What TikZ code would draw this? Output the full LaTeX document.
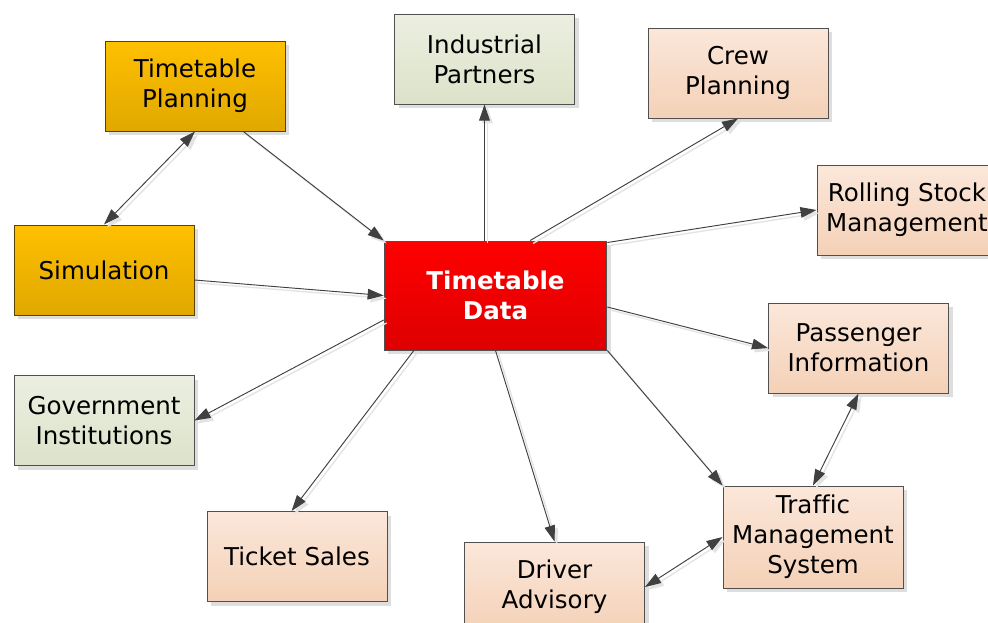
\documentclass[tikz,border=0pt]{standalone}
\usepackage{fontspec}
\setmainfont[Ligatures=NoCommon]{DejaVu Sans}
\usetikzlibrary{arrows.meta,shadows,calc}

\definecolor{goldtop}{HTML}{FFC000}
\definecolor{goldbot}{HTML}{E0A800}
\definecolor{peachtop}{HTML}{FBE7DA}
\definecolor{peachbot}{HTML}{F4D1B7}
\definecolor{sagetop}{HTML}{ECEFE1}
\definecolor{sagebot}{HTML}{DCE2C9}
\definecolor{redtop}{HTML}{FF0000}
\definecolor{redbot}{HTML}{DE0000}
\definecolor{edgegrey}{HTML}{404040}
\definecolor{framegrey}{HTML}{505050}

\tikzset{
  box/.style={rectangle, draw=framegrey, line width=0.75pt,
    minimum width=135pt, minimum height=67.5pt, align=center, inner sep=0pt,
    font=\fontsize{18.4}{22.5}\selectfont,
    drop shadow={shadow xshift=3pt, shadow yshift=-3pt, fill=black!13, opacity=1}},
  goldbox/.style={box, top color=goldtop, bottom color=goldbot, draw=black!60!goldbot},
  peachbox/.style={box, top color=peachtop, bottom color=peachbot},
  sagebox/.style={box, top color=sagetop, bottom color=sagebot},
  hubbox/.style={box, top color=redtop, bottom color=redbot,
    minimum width=167pt, minimum height=81.75pt, text=white,
    font=\fontsize{18.4}{22.5}\selectfont\bfseries},
  conn/.style={draw=edgegrey, line width=0.7pt,
    -{Triangle[length=12pt,width=8pt]},
    preaction={draw=black!11, line width=1pt,
      transform canvas={shift={(2.2pt,-2.2pt)}}}},
  bothconn/.style={conn, {Triangle[length=12pt,width=8pt]}-{Triangle[length=12pt,width=8pt]}}
}

\begin{document}
\begin{tikzpicture}[x=0.75pt,y=-0.75pt]
  \useasboundingbox (0,0) rectangle (988,622);
  \clip (0,0) rectangle (988,622);
  \fill[white] (0,0) rectangle (988,622);

  % outer boxes
  \node[goldbox]  (tp)  at (195,86)    {Timetable\\Planning};
  \node[goldbox]  (sim) at (104,270)   {Simulation};
  \node[sagebox]  (ip)  at (484.5,59)  {Industrial\\Partners};
  \node[sagebox]  (gi)  at (104,420.5) {Government\\Institutions};
  \node[peachbox] (cp)  at (738,73)    {Crew\\Planning};
  \node[peachbox] (rs)  at (907,210)   {Rolling Stock\\Management};
  \node[peachbox] (pi)  at (858.5,348) {Passenger\\Information};
  \node[peachbox] (ts)  at (297,556.5) {Ticket Sales};
  \node[peachbox] (da)  at (554.5,587) {Driver\\Advisory};
  \node[peachbox, minimum height=76.5pt] (tm) at (813,537) {Traffic\\Management\\System};

  % central hub
  \node[hubbox] (td) at (495.5,295.5) {Timetable\\Data};

  % connectors into the hub
  \draw[conn] ($(tp.south west)!0.767!(tp.south east)$) -- (td.north west);
  \draw[conn] ($(sim.east)+(0,10)$) -- (td.west);
  \draw[bothconn] (tp.south) -- (sim.north);

  % connectors out of the hub
  \draw[conn] (ip.south |- td.north) -- (ip.south);
  \draw[conn] ($(td.north west)!0.655!(td.north east)$) -- (cp.south);
  \draw[conn] ($(td.north east)+(0,2)$) -- (rs.west);
  \draw[conn] ($(td.east)+(0,11.5)$) -- (pi.west);
  \draw[conn] ($(td.west)+(0,24.5)$) -- (gi.east);
  \draw[conn] ($(td.south west)!0.135!(td.south east)$) -- ($(ts.north west)!0.47!(ts.north east)$);
  \draw[conn] (td.south) -- (da.north);
  \draw[conn] (td.south east) -- (tm.north west);

  % links between outer boxes
  \draw[bothconn] (pi.south) -- (tm.north);
  \draw[bothconn] (da.east) -- (tm.west);
\end{tikzpicture}
\end{document}
